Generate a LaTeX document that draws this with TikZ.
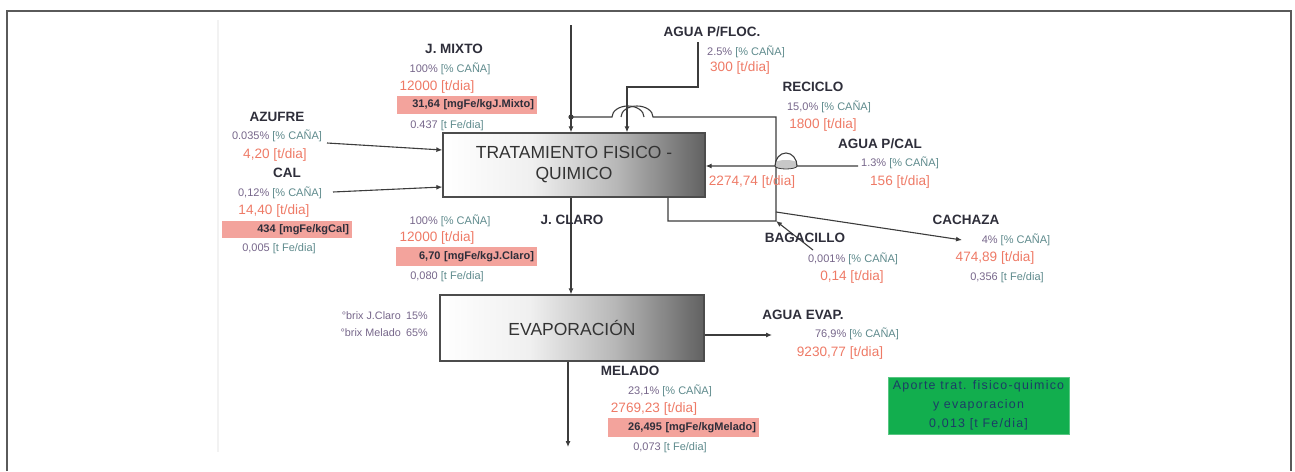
\documentclass[tikz,border=0pt]{standalone}
\usepackage{fontspec}
\setmainfont{Liberation Sans}
\newfontfamily\spacedfont[LetterSpace=10]{Liberation Sans}
\usetikzlibrary{arrows.meta}
\definecolor{linec}{HTML}{3C3C3C}
\definecolor{labc}{HTML}{2E2E3A}
\definecolor{numc}{HTML}{76668A}
\definecolor{unitc}{HTML}{5E8A8C}
\definecolor{orc}{HTML}{EE7A66}
\definecolor{pinkc}{HTML}{F3A39C}
\definecolor{greenc}{HTML}{12AE4E}
\definecolor{gtext}{HTML}{1C3C66}
\definecolor{framec}{HTML}{5A5A5A}
\pgfdeclarehorizontalshading{boxshade}{100bp}{color(0bp)=(white); color(25bp)=(white); color(42bp)=(black!6); color(58bp)=(black!28); color(75bp)=(black!62); color(100bp)=(black!62)}
\newcommand\pcx[2]{\textcolor{numc}{#1}~\textcolor{unitc}{#2}}
\tikzset{
  flow/.style={draw=linec, line width=1.1pt},
  arr/.style={flow, -{Latex[length=6pt,width=5pt]}},
  proc/.style={draw=black!70, line width=1.3pt, shading=boxshade, rectangle, inner sep=0pt, text=black!80, align=center},
  lab/.style={font=\fontsize{13.5}{16}\selectfont\bfseries, text=labc, inner sep=0pt},
  pct/.style={font=\fontsize{11}{13}\selectfont, inner sep=0pt},
  ton/.style={font=\fontsize{13.6}{16}\selectfont, text=orc, inner sep=0pt},
  pinkb/.style={fill=pinkc, font=\fontsize{11}{13}\selectfont\bfseries, text=labc, inner xsep=3pt, inner ysep=0pt, align=right},
  brix/.style={font=\fontsize{10.8}{12}\selectfont, text=numc, inner sep=0pt, anchor=east},
}
\begin{document}
\begin{tikzpicture}[x=1pt,y=-1pt]
\useasboundingbox (0,0) rectangle (1295,471);
% frame
\draw[framec, line width=2pt] (6.5,471) -- (6.5,10.5) -- (1291,10.5) -- (1291,471);
\draw[black!5, line width=2pt] (218,20) -- (218,452);

% process boxes
\node[proc, minimum width=262pt, minimum height=64pt, font=\fontsize{17.5}{21}\selectfont] (t1) at (574,165) {TRATAMIENTO FISICO -\\QUIMICO};
\node[proc, minimum width=264pt, minimum height=66pt, font=\fontsize{17.5}{21}\selectfont] (t2) at (572,328) {EVAPORACIÓN};

% coordinates
\coordinate (topin) at (571,25);
\coordinate (j1) at (571,117);
\coordinate (fl0) at (698,42);
\coordinate (fl1) at (698,87);
\coordinate (fl2) at (627,87);
\coordinate (r1) at (668,0);
\coordinate (r2) at (668,221);
\coordinate (r3) at (776,221);
\coordinate (r4) at (776,117);
\coordinate (h1) at (653,117);
\coordinate (h2) at (644,117);
\coordinate (c0) at (858,166);
\coordinate (cp1) at (797,166);
\coordinate (bg0) at (813,250);
\coordinate (cz0) at (776,212);
\coordinate (cz1) at (962,240);
\coordinate (az0) at (327,143);
\coordinate (az1) at (0,150);
\coordinate (cl0) at (333,192);
\coordinate (cl1) at (0,187);
\coordinate (jc) at (571,0);
\coordinate (ae) at (772,335);
\coordinate (ml) at (568,447);

% connectors
\draw[arr] (topin) -- (topin |- t1.north);
\fill[linec] (j1) circle[radius=2.6pt];
\draw[arr] (fl0) -- (fl1) -- (fl2) -- (fl2 |- t1.north);
\draw[flow] (t1.south -| r1) -- (r2) -- (r3) -- (r4) -- (h1) arc[start angle=0, end angle=180, x radius=16pt, y radius=11pt];
\draw[flow] (h2) arc[start angle=0, end angle=180, x radius=16pt, y radius=11pt] -- (j1);
\fill[black!22] (797,166) arc[start angle=0, end angle=-180, x radius=11pt, y radius=3pt] -- (775,163) arc[start angle=180, end angle=0, x radius=11pt, y radius=3pt] -- cycle;
\draw[arr] (c0) -- (cp1) arc[start angle=0, end angle=180, x radius=11pt, y radius=13pt] -- (t1.east |- c0);
\draw[flow, line width=0.8pt] (797,166) arc[start angle=0, end angle=-180, x radius=11pt, y radius=3pt];
\draw[arr] (bg0) -- (r3);
\draw[arr] (cz0) -- (cz1);
\draw[arr] (az0) -- (t1.west |- az1);
\draw[arr] (cl0) -- (t1.west |- cl1);
\draw[arr] (t1.south -| jc) -- (t2.north -| jc);
\draw[arr] (t2.east |- ae) -- (ae);
\draw[arr] (t2.south -| ml) -- (ml);

% J. MIXTO
\node[lab] (mxl) at (454,49) {J. MIXTO};
\node[pct] (mxp) at (450,69) {\pcx{100\%}{[\% CAÑA]}};
\node[ton] (mxt) at (437,87) {12000 [t/dia]};
\node[pinkb, minimum width=140pt, text width=134pt, minimum height=18pt] (mxk) at (467,105) {31,64 [mgFe/kgJ.Mixto]};
\node[pct] (mxf) at (447,126) {\pcx{0.437}{[t Fe/dia]}};

% AZUFRE
\node[lab] (azl) at (277,117) {AZUFRE};
\node[pct] (azp) at (277,136) {\pcx{0.035\%}{[\% CAÑA]}};
\node[ton] (azt) at (275,155) {4,20 [t/dia]};

% CAL
\node[lab] (cll) at (287,173) {CAL};
\node[pct] (clp) at (280,193) {\pcx{0,12\%}{[\% CAÑA]}};
\node[ton] (clt) at (274,211) {14,40 [t/dia]};
\node[pinkb, minimum width=130pt, text width=124pt, minimum height=17pt] (clk) at (287,229.5) {434 [mgFe/kgCal]};
\node[pct] (clf) at (279,249) {\pcx{0,005}{[t Fe/dia]}};

% J. CLARO
\node[lab] (jcl) at (572,220) {J. CLARO};
\node[pct] (jcp) at (450,221) {\pcx{100\%}{[\% CAÑA]}};
\node[ton] (jct) at (437,238) {12000 [t/dia]};
\node[pinkb, minimum width=141pt, text width=135pt, minimum height=19pt] (jck) at (466.5,256.5) {6,70 [mgFe/kgJ.Claro]};
\node[pct] (jcf) at (447,277) {\pcx{0,080}{[t Fe/dia]}};

% AGUA P/FLOC.
\node[lab] (fll) at (712,32) {AGUA P/FLOC.};
\node[pct] (flp) at (746,52) {\pcx{2.5\%}{[\% CAÑA]}};
\node[ton] (flt) at (740,68) {300 [t/dia]};

% RECICLO
\node[lab] (rcl) at (813,87) {RECICLO};
\node[pct] (rcp) at (829,107) {\pcx{15,0\%}{[\% CAÑA]}};
\node[ton] (rct) at (823,125) {1800 [t/dia]};

% AGUA P/CAL
\node[lab] (pcl) at (880,144) {AGUA P/CAL};
\node[pct] (pcp) at (900,163) {\pcx{1.3\%}{[\% CAÑA]}};
\node[ton] (pct) at (900,182) {156 [t/dia]};
\node[ton] (sum) at (752,182) {2274,74 [t/dia]};

% CACHAZA
\node[lab] (czl) at (966,220) {CACHAZA};
\node[pct] (czp) at (1016,240) {\pcx{4\%}{[\% CAÑA]}};
\node[ton] (czt) at (995,258) {474,89 [t/dia]};
\node[pct] (czf) at (1007,278) {\pcx{0,356}{[t Fe/dia]}};

% BAGACILLO
\node[lab] (bgl) at (805,238) {BAGACILLO};
\node[pct] (bgp) at (853,259) {\pcx{0,001\%}{[\% CAÑA]}};
\node[ton] (bgt) at (852,277) {0,14 [t/dia]};

% brix
\node[brix] (bx1) at (428,316) {°brix J.Claro\enspace 15\%};
\node[brix] (bx2) at (428,333) {°brix Melado\enspace 65\%};

% AGUA EVAP.
\node[lab] (ael) at (803,315) {AGUA EVAP.};
\node[pct] (aep) at (857,334) {\pcx{76,9\%}{[\% CAÑA]}};
\node[ton] (aet) at (840,353) {9230,77 [t/dia]};

% MELADO
\node[lab] (mll) at (630,371) {MELADO};
\node[pct] (mlp) at (670,391) {\pcx{23,1\%}{[\% CAÑA]}};
\node[ton] (mlt) at (654,409) {2769,23 [t/dia]};
\node[pinkb, minimum width=151pt, text width=145pt, minimum height=19pt] (mlk) at (683.5,427.5) {26,495 [mgFe/kgMelado]};
\node[pct] (mlf) at (670,448) {\pcx{0,073}{[t Fe/dia]}};

% green summary
\node[fill=greenc, draw=greenc!70!white, line width=0.6pt, minimum width=181pt, minimum height=57pt, inner sep=0pt, align=center, text=gtext, font=\spacedfont\fontsize{12.4}{19}\selectfont] (gb) at (978.5,405.5) {Aporte trat. fisico-quimico\\y evaporacion\\0,013 [t Fe/dia]};
\end{tikzpicture}
\end{document}
